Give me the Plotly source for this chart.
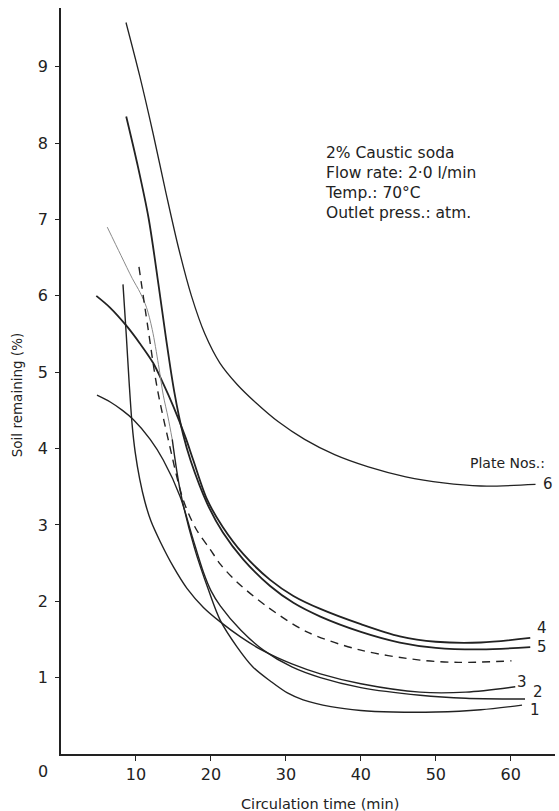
import plotly.graph_objects as go

# Circulation time (min) against soil remaining (%) for each plate
plate6_t = [8.67, 10.5, 12.3, 14.0, 15.7, 17.4, 19.2, 21.2, 23.5, 26.0, 29.0, 32.5, 36.5, 41.0, 46.0, 51.0, 56.0, 63.3]
plate6_y = [9.58, 8.88, 8.12, 7.35, 6.62, 6.00, 5.50, 5.12, 4.84, 4.60, 4.35, 4.12, 3.92, 3.76, 3.63, 3.55, 3.51, 3.53]

plate5_t = [8.7, 10.2, 11.68, 13.0, 14.0, 15.1, 16.3, 17.3, 19.5, 21.6, 24.3, 27.9, 31.0, 34.6, 40.0, 45.2, 50.0, 56.0, 62.6]
plate5_y = [8.35, 7.72, 7.02, 6.15, 5.45, 4.75, 4.18, 3.84, 3.28, 2.90, 2.55, 2.20, 1.98, 1.80, 1.60, 1.46, 1.39, 1.37, 1.40]

plate4_t = [4.71, 6.5, 8.8, 10.5, 12.3, 13.64, 15.0, 16.6, 17.64, 19.5, 21.6, 24.3, 27.9, 31.0, 34.6, 40.0, 45.2, 50.0, 56.0, 62.6]
plate4_y = [6.00, 5.85, 5.60, 5.38, 5.12, 4.85, 4.55, 4.15, 3.85, 3.33, 2.97, 2.62, 2.28, 2.07, 1.90, 1.70, 1.54, 1.47, 1.46, 1.52]

plate3_t = [8.27, 8.7, 9.1, 9.5, 9.9, 10.5, 11.2, 12.0, 13.24, 15.0, 16.8, 19.0, 21.25, 24.0, 27.0, 30.8, 34.6, 40.0, 47.9, 54.0, 60.6]
plate3_y = [6.15, 5.50, 4.85, 4.30, 3.95, 3.60, 3.30, 3.05, 2.78, 2.45, 2.17, 1.92, 1.73, 1.53, 1.35, 1.18, 1.05, 0.92, 0.81, 0.81, 0.88]

plate2_t = [4.8, 6.57, 8.2, 9.64, 11.9, 13.64, 15.9, 17.5, 19.0, 20.0, 21.25, 24.0, 27.0, 30.8, 34.6, 40.0, 47.9, 54.0, 61.9]
plate2_y = [4.70, 4.61, 4.50, 4.38, 4.12, 3.85, 3.37, 2.85, 2.38, 2.14, 1.94, 1.62, 1.36, 1.14, 1.00, 0.87, 0.77, 0.73, 0.72]

plate1_t = [6.17, 8.0, 9.5, 10.57, 11.4, 12.17, 13.0, 13.64, 14.3, 14.84, 15.9, 17.8, 19.67, 21.25, 23.5, 25.6, 28.0, 30.2, 32.3, 36.0, 40.0, 44.3, 50.0, 56.0, 61.5]
plate1_y = [6.90, 6.53, 6.23, 6.04, 5.85, 5.56, 5.10, 4.70, 4.40, 4.12, 3.45, 2.70, 2.15, 1.75, 1.40, 1.14, 0.95, 0.80, 0.71, 0.62, 0.57, 0.55, 0.55, 0.58, 0.64]
plate1_faint_end = 10  # early, faintly printed stretch of plate 1

# unnumbered dashed run
dashed_t = [10.4, 11.6, 12.8, 14.3, 16.3, 18.0, 19.9, 21.3, 23.5, 27.5, 32.8, 40.0, 47.9, 53.0, 60.1]
dashed_y = [6.38, 5.58, 4.81, 4.12, 3.33, 2.95, 2.68, 2.48, 2.25, 1.93, 1.60, 1.36, 1.23, 1.20, 1.22]

plate_names = ["1", "2", "3", "4", "5", "6"]
plate_label_t = [63.25, 63.6, 61.5, 64.2, 64.2, 65.0]
plate_label_y = [0.57, 0.81, 0.94, 1.65, 1.40, 3.53]

x_ticks = [10, 20, 30, 40, 50, 60]
y_ticks = [1, 2, 3, 4, 5, 6, 7, 8, 9]

conditions = ["2% Caustic soda", "Flow rate: 2·0 l/min", "Temp.: 70°C", "Outlet press.: atm."]

INK = "#222222"
FONT = "DejaVu Sans"

fig = go.Figure()


def add_curve(t, y, width, color=INK, dash="solid"):
    fig.add_trace(go.Scatter(
        x=t, y=y, mode="lines",
        line=dict(color=color, width=width, dash=dash, shape="spline", smoothing=0.9),
        hoverinfo="skip", showlegend=False,
    ))


add_curve(plate6_t, plate6_y, 1.3)
add_curve(plate5_t, plate5_y, 1.8)
add_curve(plate4_t, plate4_y, 1.8)
add_curve(plate3_t, plate3_y, 1.4)
add_curve(plate2_t, plate2_y, 1.4)
add_curve(plate1_t[:plate1_faint_end], plate1_y[:plate1_faint_end], 1.0, color="#8a8a8a")
add_curve(plate1_t[plate1_faint_end - 1:], plate1_y[plate1_faint_end - 1:], 1.4)
add_curve(dashed_t, dashed_y, 1.4, dash="8px,6px")

annotations = []
for name, tx, ty in zip(plate_names, plate_label_t, plate_label_y):
    annotations.append(dict(x=tx, y=ty, xref="x", yref="y", text=name, showarrow=False,
                            xanchor="center", yanchor="middle",
                            font=dict(family=FONT, size=15, color=INK)))
annotations.append(dict(x=54.3, y=3.81, xref="x", yref="y", text="Plate Nos.:", showarrow=False,
                        xanchor="left", yanchor="middle", font=dict(family=FONT, size=14, color=INK)))
annotations.append(dict(x=35.0, y=8.02, xref="x", yref="y", text="<br>".join(conditions),
                        showarrow=False, xanchor="left", yanchor="top", align="left",
                        font=dict(family=FONT, size=15.5, color=INK)))
annotations.append(dict(x=-0.036, y=-0.024, xref="paper", yref="paper", text="0", showarrow=False,
                        xanchor="center", yanchor="middle",
                        font=dict(family=FONT, size=16, color=INK)))
annotations.append(dict(x=0.524, y=-0.067, xref="paper", yref="paper", text="Circulation time (min)",
                        showarrow=False, xanchor="center", yanchor="middle",
                        font=dict(family=FONT, size=14.5, color=INK)))
annotations.append(dict(x=-0.089, y=0.481, xref="paper", yref="paper", text="Soil remaining (%)",
                        textangle=-90, showarrow=False, xanchor="center", yanchor="middle",
                        font=dict(family=FONT, size=13.5, color=INK)))

fig.update_layout(
    width=559, height=811,
    margin=dict(l=61, r=4, t=8, b=57),
    paper_bgcolor="white", plot_bgcolor="white",
    annotations=annotations,
    xaxis=dict(range=[0, 65.9], tickvals=x_ticks, showgrid=False, zeroline=False,
               showline=True, linecolor=INK, linewidth=1.6, ticks="outside", ticklen=5,
               tickcolor=INK, tickwidth=1.2, ticklabelstandoff=0,
               tickfont=dict(family=FONT, size=16, color=INK)),
    yaxis=dict(range=[0, 9.77], tickvals=y_ticks, showgrid=False, zeroline=False,
               showline=True, linecolor=INK, linewidth=1.6, ticks="outside", ticklen=4,
               tickcolor=INK, tickwidth=1.2, ticklabelstandoff=4,
               tickfont=dict(family=FONT, size=16, color=INK)),
)

fig.write_html("out.html")
